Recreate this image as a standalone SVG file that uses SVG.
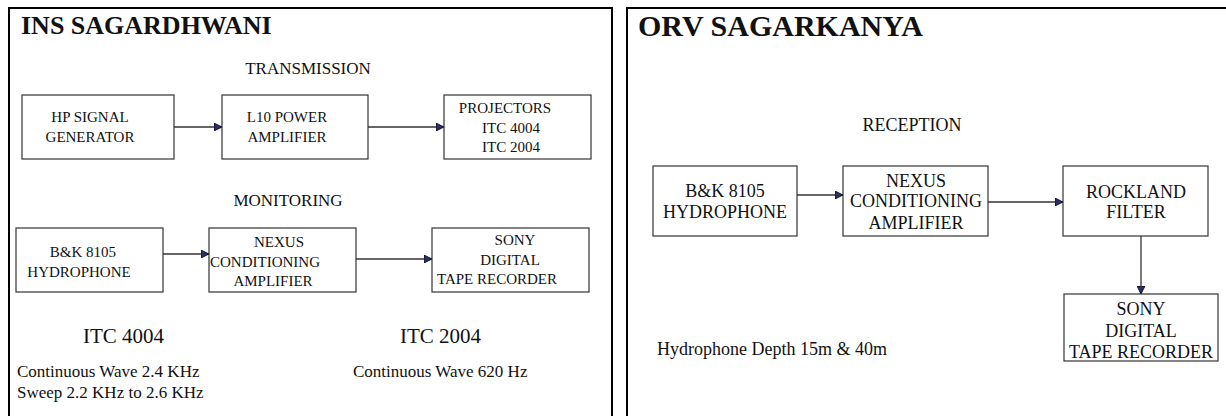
<svg xmlns="http://www.w3.org/2000/svg" width="1226" height="416" viewBox="0 0 1226 416">
<style>
text{font-family:"Liberation Serif","Times New Roman",serif;fill:#111}
.title{font-weight:bold}
.frame{fill:none;stroke:#000;stroke-width:2}
.box{fill:#fff;stroke:#333;stroke-width:1.2}
.l15{font-size:15px}
.r18{font-size:18px}
.h{font-size:17px}
.conn{stroke:#333;stroke-width:1.3;fill:none;marker-end:url(#ah)}
</style>
<defs>
<marker id="ah" viewBox="0 0 10 10" refX="10" refY="5" markerWidth="8" markerHeight="8" markerUnits="userSpaceOnUse" orient="auto">
<path d="M0,0 L10,5 L0,10 z" fill="#2a2f6a" stroke="#000" stroke-width="1"/>
</marker>
</defs>
<rect width="1226" height="416" fill="#fff"/>
<rect class="frame" x="9" y="8" width="603" height="420"/>
<rect class="frame" x="627" y="8" width="610" height="420"/>
<text class="title" x="21" y="34" font-size="26">INS SAGARDHWANI</text>
<text class="title" x="638" y="36" font-size="30">ORV SAGARKANYA</text>
<text class="h" x="308" y="74" text-anchor="middle">TRANSMISSION</text>
<text class="h" x="288" y="206" text-anchor="middle">MONITORING</text>
<text class="r18" x="912" y="131" text-anchor="middle">RECEPTION</text>
<g id="connectors">
<line class="conn" x1="174" y1="127" x2="222" y2="127"/>
<line class="conn" x1="368" y1="127" x2="444" y2="127"/>
<line class="conn" x1="163" y1="254" x2="209" y2="254"/>
<line class="conn" x1="356" y1="259" x2="432" y2="259"/>
<line class="conn" x1="797" y1="195" x2="843" y2="195"/>
<line class="conn" x1="988" y1="202" x2="1063" y2="202"/>
<line class="conn" x1="1141" y1="236" x2="1141" y2="294"/>
</g>
<g id="hp-signal-generator">
<rect class="box" x="22" y="95" width="152" height="64"/>
<text class="l15" x="90" y="122" text-anchor="middle">HP SIGNAL</text>
<text class="l15" x="90" y="142" text-anchor="middle">GENERATOR</text>
</g>
<g id="l10-power-amplifier">
<rect class="box" x="222" y="95" width="146" height="64"/>
<text class="l15" x="287" y="122" text-anchor="middle">L10 POWER</text>
<text class="l15" x="287" y="142" text-anchor="middle">AMPLIFIER</text>
</g>
<g id="projectors">
<rect class="box" x="444" y="95" width="147" height="64"/>
<text class="l15" x="505" y="113" text-anchor="middle">PROJECTORS</text>
<text class="l15" x="511" y="133" text-anchor="middle">ITC 4004</text>
<text class="l15" x="511" y="152" text-anchor="middle">ITC 2004</text>
</g>
<g id="bk-hydrophone-left">
<rect class="box" x="16" y="228" width="147" height="64"/>
<text class="l15" x="83" y="257" text-anchor="middle">B&amp;K 8105</text>
<text class="l15" x="79" y="277" text-anchor="middle">HYDROPHONE</text>
</g>
<g id="nexus-left">
<rect class="box" x="209" y="228" width="147" height="64"/>
<text class="l15" x="279" y="247" text-anchor="middle">NEXUS</text>
<text class="l15" x="210" y="267">CONDITIONING</text>
<text class="l15" x="273" y="286" text-anchor="middle">AMPLIFIER</text>
</g>
<g id="sony-left">
<rect class="box" x="432" y="228" width="157" height="64"/>
<text class="l15" x="515" y="245" text-anchor="middle">SONY</text>
<text class="l15" x="510" y="265" text-anchor="middle">DIGITAL</text>
<text class="l15" x="497" y="284" text-anchor="middle">TAPE RECORDER</text>
</g>
<g id="itc-notes">
<text x="83" y="343" font-size="21">ITC 4004</text>
<text x="400" y="343" font-size="21">ITC 2004</text>
<text x="17" y="377" font-size="17">Continuous Wave 2.4 KHz</text>
<text x="17" y="398" font-size="17">Sweep 2.2 KHz to 2.6 KHz</text>
<text x="353" y="377" font-size="17">Continuous Wave 620 Hz</text>
</g>
<g id="bk-hydrophone-right">
<rect class="box" x="653" y="166" width="144" height="70"/>
<text class="r18" x="725" y="197" text-anchor="middle">B&amp;K 8105</text>
<text class="r18" x="725" y="218" text-anchor="middle">HYDROPHONE</text>
</g>
<g id="nexus-right">
<rect class="box" x="843" y="166" width="145" height="70"/>
<text class="r18" x="916" y="187" text-anchor="middle">NEXUS</text>
<text class="r18" x="916" y="207" text-anchor="middle">CONDITIONING</text>
<text class="r18" x="916" y="229" text-anchor="middle">AMPLIFIER</text>
</g>
<g id="rockland-filter">
<rect class="box" x="1063" y="166" width="145" height="70"/>
<text class="r18" x="1136" y="198" text-anchor="middle">ROCKLAND</text>
<text class="r18" x="1136" y="218" text-anchor="middle">FILTER</text>
</g>
<g id="sony-right">
<rect class="box" x="1064" y="294" width="154" height="67"/>
<text class="r18" x="1141" y="315" text-anchor="middle">SONY</text>
<text class="r18" x="1141" y="337" text-anchor="middle">DIGITAL</text>
<text class="r18" x="1141" y="358" text-anchor="middle">TAPE RECORDER</text>
</g>
<text class="r18" x="657" y="355">Hydrophone Depth 15m &amp; 40m</text>
</svg>
